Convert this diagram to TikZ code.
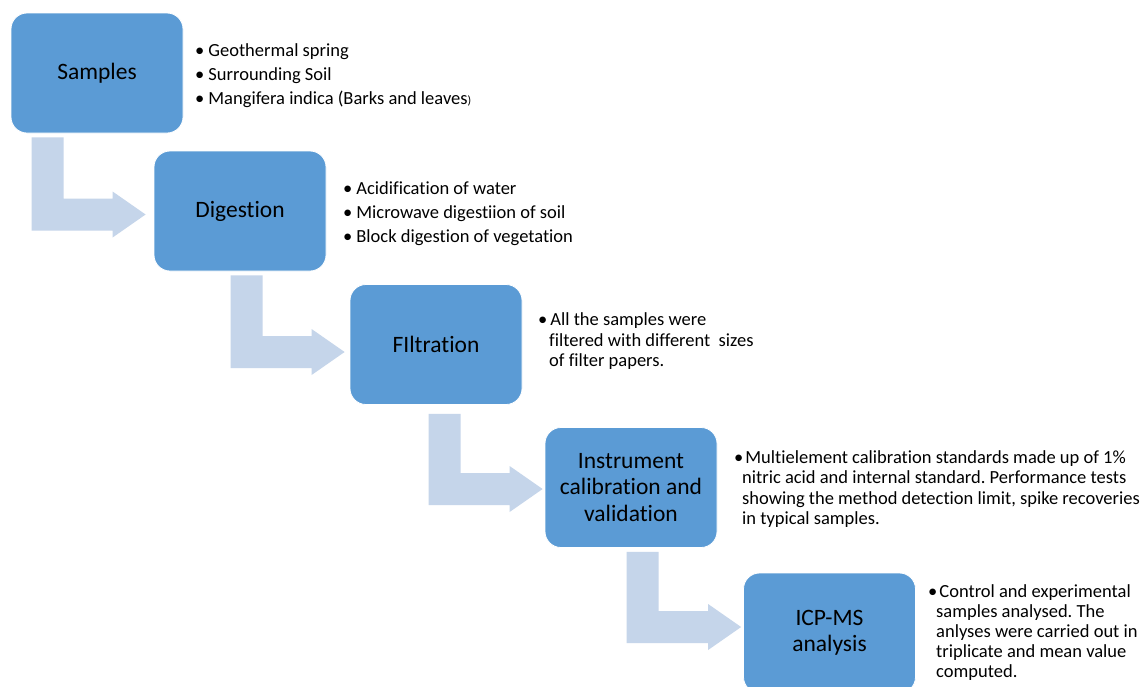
\documentclass[tikz,border=0pt]{standalone}
\usepackage{fontspec}
\setmainfont{Carlito}[Ligatures=NoCommon]
\usetikzlibrary{calc}
\definecolor{boxblue}{HTML}{5B9BD5}
\definecolor{arrowblue}{HTML}{C5D5EA}
\tikzset{
  stepbox/.style={rounded corners=16pt, fill=boxblue, draw=white, line width=0.8pt,
    minimum width=172pt, minimum height=120pt, inner sep=0pt, align=center,
    font=\fontsize{23.5}{26.5}\selectfont, text=black},
  bline/.style={anchor=base west, inner sep=0pt, font=\fontsize{18.5}{20}\selectfont, text=black},
  bendarrow/.style={fill=arrowblue}
}
\newcommand\bentarrow[4]{%
  \fill[bendarrow] let \p1=($(#1.south west)+#3$), \p2=($(#2.west)+#4$) in
  (\x1,\y1) -- (\x1+32pt,\y1) -- (\x1+32pt,\y2+16pt) -- (\x2-33pt,\y2+16pt)
  -- (\x2-33pt,\y2+23pt) -- (\x2,\y2) -- (\x2-33pt,\y2-23pt) -- (\x2-33pt,\y2-16pt)
  -- (\x1,\y2-16pt) -- cycle;}
\frenchspacing
\begin{document}
\begin{tikzpicture}[x=1pt,y=-1pt]
\useasboundingbox (0,0) rectangle (1147,686);
\clip (0,0) rectangle (1147,686);
\fill[white] (0,0) rectangle (1147,686);
% boxes
\node[stepbox] (b1) at (97,73) {Samples};
\node[stepbox] (b2) at (240,211) {Digestion};
\node[stepbox] (b3) at (436,344.5) {FIltration};
\node[stepbox] (b4) at (631,487.5) {Instrument\\calibration and\\validation};
\node[stepbox] (b5) at (829.5,633) {ICP-MS\\analysis};
% bent arrows
\bentarrow{b1}{b2}{(21,4)}{(-8,3.5)}
\bentarrow{b2}{b3}{(77,4)}{(-5,7.5)}
\bentarrow{b3}{b4}{(79,9)}{(-2,1.5)}
\bentarrow{b4}{b5}{(82,4)}{(-2,-6)}
% bullets box 1
\node[bline] (t1a) at (195,56) {•\hspace{4pt}Geothermal spring};
\node[bline] (t1b) at (195,80) {•\hspace{4pt}Surrounding Soil};
\node[bline] (t1c) at (195,104) {•\hspace{4pt}Mangifera indica (Barks and leaves{\fontsize{12}{12}\selectfont)}};
% bullets box 2
\node[bline] (t2a) at (343,194) {•\hspace{4pt}Acidification of water};
\node[bline] (t2b) at (343,218) {•\hspace{4pt}Microwave digestiion of soil};
\node[bline] (t2c) at (343,242) {•\hspace{4pt}Block digestion of vegetation};
% bullets box 3
\node[bline] (t3a) at (538,325) {•\hspace{3pt}All the samples were};
\node[bline] (t3b) at (549,346) {filtered with different\ \ sizes};
\node[bline] (t3c) at (549,366) {of filter papers.};
% bullets box 4
\node[bline] (t4a) at (734,463) {•\hspace{2pt}Multielement calibration standards made up of 1\%};
\node[bline] (t4b) at (742,483) {nitric acid and internal standard. Performance tests};
\node[bline] (t4c) at (742,504) {showing the method detection limit, spike recoveries};
\node[bline] (t4d) at (742,524) {in typical samples.};
% bullets box 5
\node[bline] (t5a) at (928,597) {•\hspace{2pt}Control and experimental};
\node[bline] (t5b) at (936,617) {samples analysed. The};
\node[bline] (t5c) at (936,637) {anlyses were carried out in};
\node[bline] (t5d) at (936,657) {triplicate and mean value};
\node[bline] (t5e) at (936,677) {computed.};
\end{tikzpicture}
\end{document}
